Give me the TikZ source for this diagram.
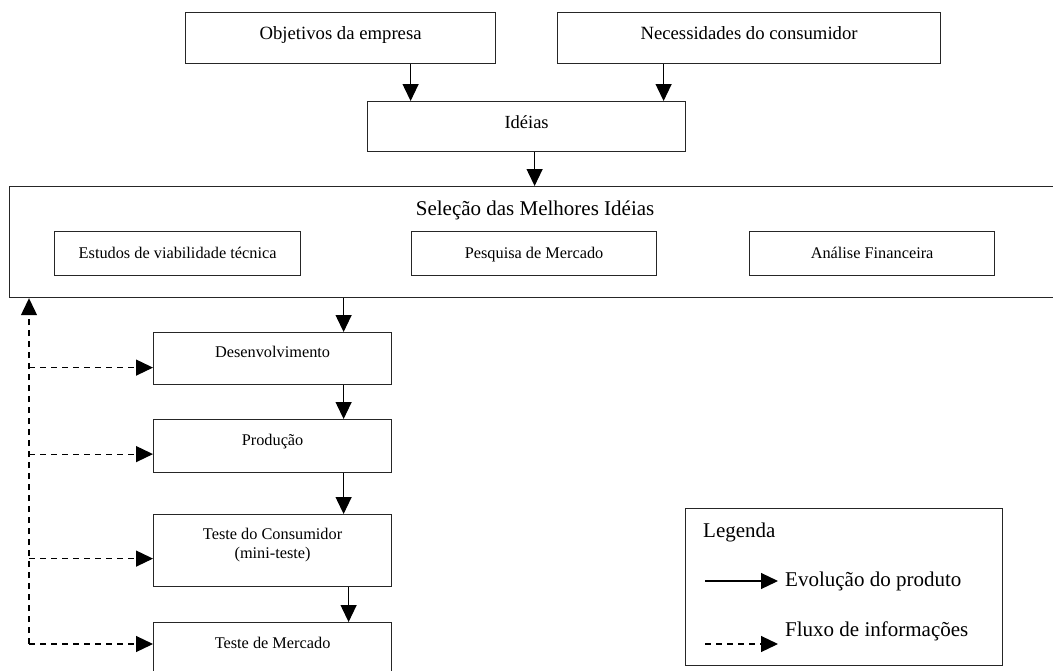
\documentclass[tikz,border=0pt]{standalone}
\usepackage{fontspec}
\setmainfont{Liberation Serif}
\usetikzlibrary{arrows.meta}
\begin{document}
\begin{tikzpicture}[x=1pt,y=-1pt,
  box/.style={draw=black!85, line width=1.2pt, inner xsep=0pt, inner ysep=0pt, align=center, anchor=north west},
  bigf/.style={font=\fontsize{18.7}{22}\selectfont},
  smallf/.style={font=\fontsize{16.3}{19}\selectfont},
  legf/.style={font=\fontsize{21}{25}\selectfont},
  arr/.style={line width=1.2pt, -{Triangle[length=17pt,width=16pt]}},
  darr/.style={line width=1.2pt, dash pattern=on 6pt off 5pt, -{Triangle[length=17pt,width=16pt]}}]

\useasboundingbox (0,0) rectangle (1053,670);

% top boxes
\node[box, bigf, minimum width=310pt, text height=27pt, text depth=24pt] (obj) at (185,12) {Objetivos da empresa};
\node[box, bigf, minimum width=383pt, text height=27pt, text depth=24pt] (nec) at (557,12) {Necessidades do consumidor};
\node[box, font=\fontsize{18.5}{22}\selectfont, minimum width=318pt, text height=27pt, text depth=23pt] (ideias) at (367,101) {Idéias};

% selection box
\node[box, legf, minimum width=1051pt, text height=29pt, text depth=82pt] (sel) at (9,186) {Seleção das Melhores Idéias};
\node[box, smallf, minimum width=246pt, text height=27pt, text depth=17pt] (est) at (54,231) {Estudos de viabilidade técnica};
\node[box, smallf, minimum width=245pt, text height=27pt, text depth=17pt] (pesq) at (411,231) {Pesquisa de Mercado};
\node[box, smallf, minimum width=245pt, text height=27pt, text depth=17pt] (anal) at (749,231) {Análise Financeira};

% lower column
\node[box, smallf, minimum width=238pt, text height=25pt, text depth=27pt] (desenv) at (153,332) {Desenvolvimento};
\node[box, smallf, minimum width=238pt, text height=26pt, text depth=27pt] (prod) at (153,419) {Produção};
\node[box, smallf, minimum width=238pt, text height=25pt, text depth=47pt, align=none] (teste) at (153,514)
  {\begin{tabular}[t]{@{}c@{}}Teste do Consumidor\\(mini-teste)\end{tabular}};
\node[box, smallf, minimum width=238pt, text height=26pt, text depth=44pt] (merc) at (153,622) {Teste de Mercado};

% product evolution arrows
\draw[arr] ([xshift=70pt]obj.south) -- ([xshift=70pt]obj.south |- ideias.north);
\draw[arr] ([xshift=-85.5pt]nec.south) -- ([xshift=-85.5pt]nec.south |- ideias.north);
\draw[arr] ([xshift=8pt]ideias.south) -- ([xshift=8pt]ideias.south |- sel.north);
\draw[arr] ([xshift=71pt]desenv.north |- sel.south) -- ([xshift=71pt]desenv.north);
\draw[arr] ([xshift=71pt]desenv.south) -- ([xshift=71pt]prod.north);
\draw[arr] ([xshift=71pt]prod.south) -- ([xshift=71pt]teste.north);
\draw[arr] ([xshift=76pt]teste.south) -- ([xshift=76pt]merc.north);

% information flow
\coordinate (c0) at (29,644);
\coordinate (d1) at ([yshift=-9pt]desenv.west);
\coordinate (d2) at ([yshift=-8pt]prod.west);
\coordinate (d3) at ([yshift=-8pt]teste.west);
\draw[darr] (c0) -- (c0 |- sel.south);
\draw[darr] (c0) -- (c0 -| merc.west);
\draw[darr] (d1 -| c0) -- (d1);
\draw[darr] (d2 -| c0) -- (d2);
\draw[darr] (d3 -| c0) -- (d3);

% legend
\node[box, minimum width=317pt, minimum height=157pt] (leg) at (685,508) {};
\node[legf, anchor=base west, inner sep=0pt] (legt) at (703,537) {Legenda};
\node[legf, anchor=base west, inner sep=0pt] (ev) at (785,586) {Evolução do produto};
\node[legf, anchor=base west, inner sep=0pt] (fl) at (785,636) {Fluxo de informações};
\coordinate (ls1) at (705,581);
\coordinate (le1) at (778,581);
\coordinate (ls2) at (705,644);
\coordinate (le2) at (778,644);
\draw[arr] (ls1) -- (le1);
\draw[darr] (ls2) -- (le2);
\end{tikzpicture}
\end{document}
